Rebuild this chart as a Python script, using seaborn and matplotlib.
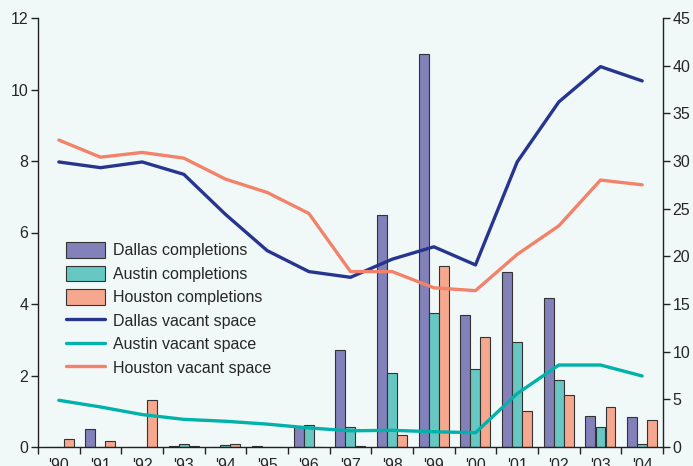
import matplotlib
matplotlib.use("Agg")
import matplotlib.pyplot as plt
import seaborn as sns
import pandas as pd
import numpy as np

# Data
years = ["'90", "'91", "'92", "'93", "'94", "'95", "'96", "'97",
         "'98", "'99", "'00", "'01", "'02", "'03", "'04"]

dallas_comp = [0.0, 0.51, 0.0, 0.03, 0.01, 0.02, 0.58, 2.71, 6.5, 11.0, 3.69, 4.9, 4.17, 0.87, 0.83]
austin_comp = [0.0, 0.0, 0.0, 0.07, 0.06, 0.0, 0.61, 0.55, 2.07, 3.75, 2.18, 2.94, 1.87, 0.57, 0.08]
houston_comp = [0.22, 0.16, 1.31, 0.02, 0.09, 0.01, 0.0, 0.04, 0.33, 5.06, 3.08, 1.0, 1.45, 1.11, 0.75]

dallas_vac = [29.9, 29.3, 29.9, 28.6, 24.4, 20.6, 18.4, 17.8, 19.7, 21.0, 19.1, 29.9, 36.2, 39.9, 38.4]
austin_vac = [4.9, 4.2, 3.4, 2.9, 2.7, 2.4, 2.0, 1.7, 1.75, 1.6, 1.5, 5.6, 8.6, 8.6, 7.45]
houston_vac = [32.2, 30.4, 30.9, 30.3, 28.1, 26.7, 24.5, 18.4, 18.4, 16.7, 16.4, 20.2, 23.2, 28.0, 27.5]

bar_names = ["Dallas completions", "Austin completions", "Houston completions"]
line_names = ["Dallas vacant space", "Austin vacant space", "Houston vacant space"]
bar_colors = ["#8281ba", "#66c7c3", "#f6a88e"]
line_colors = ["#27358f", "#00b2aa", "#f3826a"]

bg = "#f1f9f8"

df_bars = pd.DataFrame({
    "year": years * 3,
    "value": dallas_comp + austin_comp + houston_comp,
    "series": [n for n in bar_names for _ in years],
})
df_lines = pd.DataFrame({
    "x": list(range(len(years))) * 3,
    "value": dallas_vac + austin_vac + houston_vac,
    "series": [n for n in line_names for _ in years],
})

sns.set_style("ticks")
plt.rcParams["font.family"] = ["Liberation Sans Narrow", "Liberation Sans", "DejaVu Sans"]
plt.rcParams["font.size"] = 11.5

fig = plt.figure(figsize=(6.93, 4.66), dpi=100, facecolor=bg)
ax = fig.add_axes([38 / 693, 1 - 447 / 466, 625 / 693, 429 / 466])
ax.set_facecolor(bg)

sns.barplot(data=df_bars, x="year", y="value", hue="series", order=years,
            hue_order=bar_names, palette=bar_colors, width=0.72,
            edgecolor="#333333", linewidth=0.8, saturation=1, ax=ax)

ax2 = ax.twinx()
sns.lineplot(data=df_lines, x="x", y="value", hue="series", hue_order=line_names,
             palette=line_colors, linewidth=2.4, ax=ax2)

ax.set_xlim(-0.5, len(years) - 0.5)
ax.set_ylim(0, 12)
ax2.set_ylim(0, 45)
ax.set_yticks(np.arange(0, 13, 2))
ax2.set_yticks(np.arange(0, 46, 5))

ax.set_xticks(range(len(years)))
ax.set_xticklabels(years)
ax.set_xticks(np.arange(-0.5, len(years), 1), minor=True)
ax.tick_params(axis="x", which="major", length=0, pad=8)
ax.tick_params(axis="x", which="minor", length=5, width=1, color="#222222")
ax.tick_params(axis="y", length=5, width=1, color="#222222", pad=2)
ax2.tick_params(axis="y", length=5, width=1, color="#222222", pad=2)

ax.set_xlabel("")
ax.set_ylabel("")
ax2.set_xlabel("")
ax2.set_ylabel("")

for a in (ax, ax2):
    a.spines["top"].set_visible(False)
    for s in ("left", "right", "bottom"):
        a.spines[s].set_color("#222222")
        a.spines[s].set_linewidth(1)
ax.spines["right"].set_visible(False)
ax2.spines["left"].set_visible(False)
ax2.spines["bottom"].set_visible(False)

h1, l1 = ax.get_legend_handles_labels()
h2, l2 = ax2.get_legend_handles_labels()
ax.get_legend().remove()
ax2.legend(h1 + h2, l1 + l2, loc="upper left", bbox_to_anchor=(0.035, 0.492),
           frameon=False, handlelength=2.4, handleheight=1.1, labelspacing=0.46,
           handletextpad=0.5, borderaxespad=0, fontsize=11.5)

fig.savefig("out.png", dpi=100, facecolor=bg)
